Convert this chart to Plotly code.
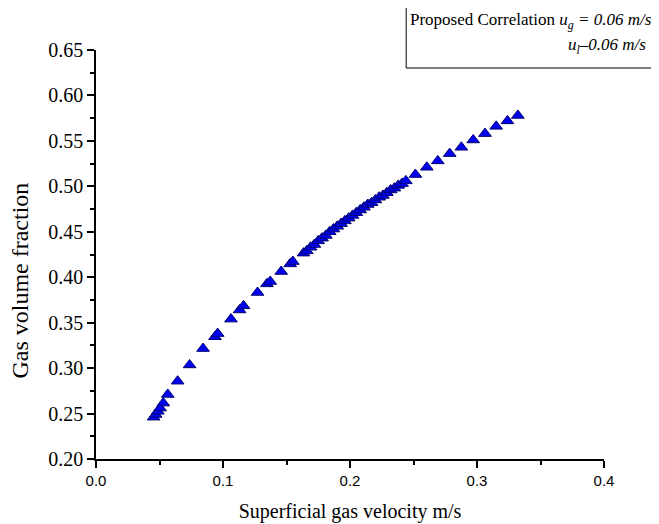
import plotly.graph_objects as go

# Superficial gas velocity (m/s)
velocity = [
    0.0454, 0.0470, 0.0487, 0.0505, 0.0530, 0.0565, 0.0643, 0.0737, 0.0843,
    0.0937, 0.0958, 0.1063, 0.1131, 0.1162, 0.1272, 0.1346, 0.1372, 0.1458,
    0.1529, 0.1550, 0.1634,
    0.166, 0.169, 0.172, 0.175, 0.178, 0.181, 0.184, 0.187, 0.190, 0.193,
    0.196, 0.199, 0.202, 0.205, 0.208, 0.211, 0.214, 0.217, 0.220, 0.223,
    0.226, 0.229, 0.232, 0.235, 0.238, 0.241, 0.244,
    0.2515, 0.2605, 0.2691, 0.2785, 0.2877, 0.2970, 0.3063, 0.3151, 0.3240, 0.3322,
]
# Gas volume fraction
fraction = [
    0.246, 0.249, 0.2525, 0.256, 0.2615, 0.271, 0.2856, 0.3035, 0.3215,
    0.3345, 0.338, 0.3539, 0.364, 0.3685, 0.3832, 0.3927, 0.3953, 0.4063,
    0.4147, 0.4173, 0.4265,
    0.429, 0.433, 0.436, 0.440, 0.443, 0.446, 0.450, 0.453, 0.456, 0.459,
    0.462, 0.465, 0.468, 0.471, 0.474, 0.477, 0.480, 0.482, 0.485, 0.488,
    0.490, 0.493, 0.496, 0.498, 0.501, 0.503, 0.506,
    0.513, 0.521, 0.528, 0.536, 0.543, 0.551, 0.558, 0.566, 0.572, 0.578,
]

x_ticks = [0.0, 0.1, 0.2, 0.3, 0.4]
y_ticks = [0.20, 0.25, 0.30, 0.35, 0.40, 0.45, 0.50, 0.55, 0.60, 0.65]

serif = "Liberation Serif, Times New Roman, serif"
sans = "Liberation Sans, Arial, sans-serif"

# page body has an 8px default margin; size the figure to fill the window
OFF = 8
W, H = 659 - OFF, 524 - OFF
L, R, T, B = 95.5 - OFF, 55, 50 - OFF, 65
pw, ph = W - L - R, H - T - B


def px_x(p):
    return (p - OFF - L) / pw


def px_y(p):
    return (H - B - (p - OFF)) / ph


fig = go.Figure()
fig.add_trace(go.Scatter(
    x=velocity, y=fraction, mode="markers",
    marker=dict(symbol="triangle-up", size=11, color="#0000F0",
                line=dict(color="#000070", width=1)),
    showlegend=False,
))

fig.update_layout(
    width=W, height=H,
    margin=dict(l=L, r=R, t=T, b=B),
    plot_bgcolor="white", paper_bgcolor="white",
    xaxis=dict(
        range=[0, 0.4], tickvals=x_ticks, tickformat=".1f", automargin=False,
        showgrid=False, zeroline=False, showline=True, linecolor="black", linewidth=1.5,
        ticks="outside", ticklen=7, tickwidth=1.5, tickcolor="black",
        minor=dict(ticks="outside", ticklen=4, tickwidth=1.5, tickcolor="black", dtick=0.05),
        tickfont=dict(family=sans, size=15, color="black"),
        title=dict(text="Superficial gas velocity m/s", font=dict(family=serif, size=20, color="black"), standoff=16),
    ),
    yaxis=dict(
        range=[0.2, 0.65], tickvals=y_ticks, tickformat=".2f", automargin=False,
        showgrid=False, zeroline=False, showline=True, linecolor="black", linewidth=1.5,
        ticks="outside", ticklen=7, tickwidth=1.5, tickcolor="black",
        minor=dict(ticks="outside", ticklen=4, tickwidth=1.5, tickcolor="black", dtick=0.025),
        tickfont=dict(family=serif, size=20, color="black"),
    ),
)

# y-axis title, placed as in the reference (slightly below the axis centre)
fig.add_annotation(xref="paper", yref="paper", x=px_x(19), y=px_y(281),
                   xanchor="center", yanchor="middle", showarrow=False, textangle=-90,
                   text="Gas volume fraction",
                   font=dict(family=serif, size=24, color="black"))

fig.add_shape(type="rect", xref="paper", yref="paper",
              x0=px_x(406), x1=px_x(656), y0=px_y(68), y1=px_y(7),
              line=dict(color="black", width=1), fillcolor="white", layer="above")

fig.add_annotation(xref="paper", yref="paper", x=px_x(408), y=px_y(21),
                   xanchor="left", yanchor="middle", showarrow=False,
                   text="Proposed Correlation <i>u<sub>g</sub> = 0.06 m/s</i>",
                   font=dict(family=serif, size=17, color="black"))
fig.add_annotation(xref="paper", yref="paper", x=px_x(648), y=px_y(46),
                   xanchor="right", yanchor="middle", showarrow=False,
                   text="<i>u<sub>l</sub>–0.06 m/s</i>",
                   font=dict(family=serif, size=17, color="black"))

fig.write_html("out.html")
